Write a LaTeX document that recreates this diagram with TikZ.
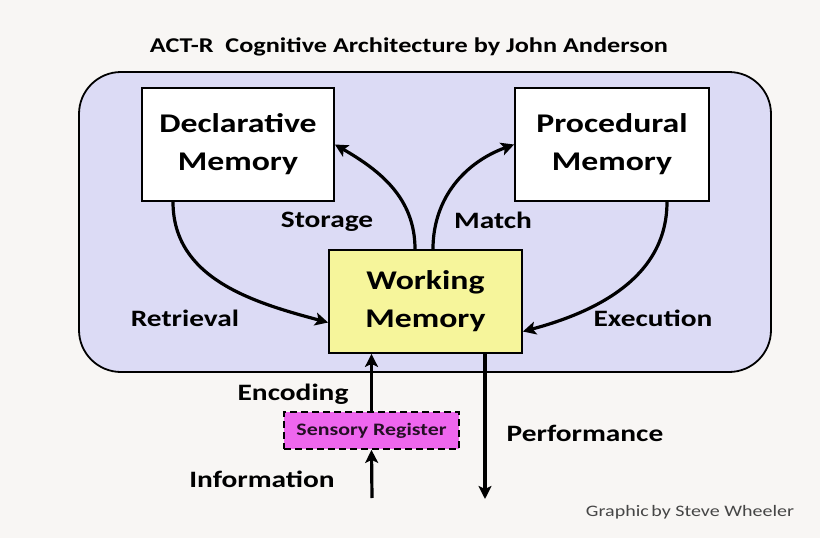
\documentclass[tikz,border=0pt]{standalone}
\usepackage{fontspec}
\setmainfont{Carlito}[FakeStretch=1.25]
\usetikzlibrary{arrows.meta,calc}
\definecolor{bgc}{RGB}{248,246,244}
\definecolor{lav}{RGB}{220,219,245}
\definecolor{wmy}{RGB}{246,245,155}
\definecolor{mag}{RGB}{238,102,238}
\definecolor{credit}{RGB}{70,70,70}
\tikzset{
  membox/.style={draw=black, line width=1.8pt, fill=white, align=center, font=\fontsize{27}{38}\selectfont\bfseries, inner sep=0pt},
  flow/.style={line width=3.2pt, -{Stealth[length=13pt,width=13pt,inset=3pt]}},
  lbl/.style={font=\fontsize{23.5}{28}\selectfont\bfseries, inner sep=0pt},
}
\begin{document}
\begin{tikzpicture}[x=1pt,y=-1pt]
\fill[bgc] (0,0) rectangle (820,538);
\useasboundingbox (0,0) rectangle (820,538);
\node[font=\fontsize{21}{25}\selectfont\bfseries, inner sep=0pt] (title) at (409,47) {ACT-R\ \ Cognitive Architecture by John Anderson};
\draw[line width=1.8pt, fill=lav, rounded corners=42pt] (79,72) rectangle (771,372);
\node[membox, minimum width=192pt, minimum height=113pt] (dm) at (238,144.5) {Declarative\\Memory};
\node[membox, minimum width=194pt, minimum height=113pt] (pm) at (612,144.5) {Procedural\\Memory};
\node[membox, fill=wmy, minimum width=193pt, minimum height=103pt] (wm) at (425.5,301.5) {Working\\Memory};
\node[draw=black, line width=1.8pt, dash pattern=on 7pt off 4pt, fill=mag, minimum width=175pt, minimum height=37pt, inner sep=0pt, font=\fontsize{17.5}{20}\selectfont\bfseries, text=black!85!mag] (sr) at (371.5,430.5) {Sensory Register};
% labels
\node[lbl] (storage) at (327,222) {Storage};
\node[lbl] (match) at (493,220) {Match};
\node[lbl] (retrieval) at (185,318) {Retrieval};
\node[lbl] (execution) at (653,318) {Execution};
\node[lbl] (encoding) at (293,394) {Encoding};
\node[lbl] (information) at (262,479) {Information};
\node[lbl] (performance) at (585,433) {Performance};
\node[font=\fontsize{16}{20}\selectfont, text=credit, inner sep=0pt] (credit) at (690,512) {Graphic\,by Steve Wheeler};
% free ends
\coordinate (infoin) at (372,498);
\coordinate (perfout) at (485,499);
% arrows
\draw[flow] ([xshift=-10.5pt]wm.north) to[out=90,in=-30] (dm.east);
\draw[flow] ([xshift=7.5pt]wm.north) to[out=90,in=200] (pm.west);
\draw[flow] ([xshift=-65pt]dm.south) to[out=-90,in=165] ([yshift=-21pt]wm.west);
\draw[flow] ([xshift=55pt]pm.south) to[out=-90,in=15] ([yshift=-30pt]wm.east);
\draw[flow] (sr.north) -- (sr.north |- wm.south);
\draw[flow] (infoin) -- (sr.south);
\draw[flow] ([xshift=59.5pt]wm.south) -- (perfout);
\end{tikzpicture}
\end{document}
